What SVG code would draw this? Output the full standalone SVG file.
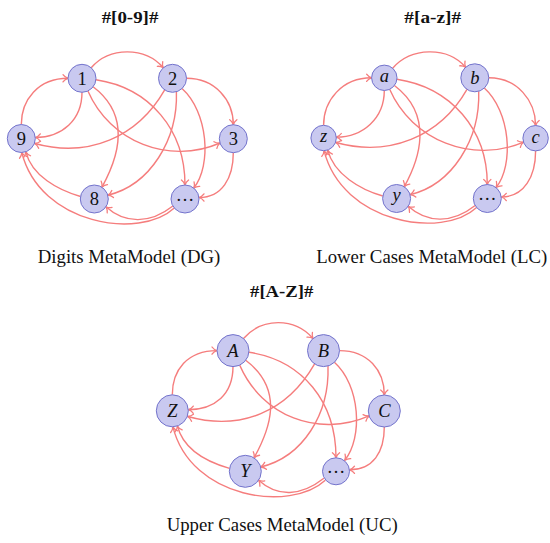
<svg xmlns="http://www.w3.org/2000/svg" width="550" height="543" viewBox="0 0 550 543">
<style>
.edge{fill:none;stroke:#f57d7d;stroke-width:1.4;marker-end:url(#arr)}
.nd circle{fill:#c9c9f0;stroke:#7373cc;stroke-width:1}
.lbl{font-family:"Liberation Serif","Times New Roman",serif;font-size:18.5px;text-anchor:middle;fill:#111}
.it{font-style:italic}
.title{font-family:"Liberation Serif","Times New Roman",serif;font-weight:bold;font-size:16.5px;text-anchor:middle;fill:#111}
.cap{font-family:"Liberation Serif","Times New Roman",serif;font-size:18.8px;text-anchor:middle;fill:#111}
</style>
<defs>
<marker id="arr" viewBox="-6 -5 8 10" refX="0" refY="0" markerWidth="8" markerHeight="10" markerUnits="userSpaceOnUse" orient="auto" overflow="visible">
<path d="M-5,-3.6 C-3.6,-1.6 -1.2,-0.4 0,0 C-1.2,0.4 -3.6,1.6 -5,3.6" fill="none" stroke="#f57d7d" stroke-width="1.3" stroke-linecap="round"/>
</marker>
</defs>

<!-- Titles and captions -->
<text class="title" x="130" y="23.3" textLength="56.7" lengthAdjust="spacingAndGlyphs">#[0-9]#</text>
<text class="title" x="432.7" y="22.9" textLength="56.7" lengthAdjust="spacingAndGlyphs">#[a-z]#</text>
<text class="title" x="281.7" y="296.7" textLength="63.3" lengthAdjust="spacingAndGlyphs">#[A-Z]#</text>
<text class="cap" x="129" y="263.3">Digits MetaModel (DG)</text>
<text class="cap" x="431.7" y="263.3">Lower Cases MetaModel (LC)</text>
<text class="cap" x="282.2" y="530.7">Upper Cases MetaModel (UC)</text>

<!-- Graph 1: digits -->
<g id="dg">
<g id="dg-edges">
<path class="edge" d="M91.2,67.7 C109.6,46.6 144.9,46.6 163.3,67.7"/>
<path class="edge" d="M21.3,124.5 C21.3,100 38,78.3 68,78.3"/>
<path class="edge" d="M82,92.3 C82,120 62,137.5 35.3,137.5"/>
<path class="edge" d="M186.5,78.3 C215,78.3 233.3,100 233.3,124.7"/>
<path class="edge" d="M233.3,152.7 C233.3,178 222,197.5 199,197.5"/>
<path class="edge" d="M164.7,89.9 C137.4,137.7 87.8,158.2 34.8,143.5"/>
<path class="edge" d="M87.9,91 C110.1,142 169,165.2 220,143"/>
<path class="edge" d="M93.1,86.8 C133,117 117,160 101.9,187.3"/>
<path class="edge" d="M96,79.8 C150,88 185,130 185,185"/>
<path class="edge" d="M176.4,91.8 C178,140 150,185 107.8,195.2"/>
<path class="edge" d="M182,88.5 C208,112 212,165 193.8,188"/>
<path class="edge" d="M80.5,196.5 C58,190 32,176 25.8,151.8"/>
<path class="edge" d="M172.9,206 C150,224 125,224 105.9,206.8"/>
<path class="edge" d="M174.3,208 C140,240 40,225 21.8,152.5"/>
</g>
<g id="dg-1" class="nd"><circle cx="82" cy="78.3" r="14"/><text class="lbl" x="82" y="84.6">1</text></g>
<g id="dg-2" class="nd"><circle cx="172.5" cy="78.3" r="14"/><text class="lbl" x="172.5" y="84.6">2</text></g>
<g id="dg-9" class="nd"><circle cx="21.3" cy="138.5" r="14"/><text class="lbl" x="21.3" y="144.8">9</text></g>
<g id="dg-3" class="nd"><circle cx="233.3" cy="138.7" r="14"/><text class="lbl" x="233.3" y="145">3</text></g>
<g id="dg-8" class="nd"><circle cx="94.3" cy="199" r="14"/><text class="lbl" x="94.3" y="205.3">8</text></g>
<g id="dg-dots" class="nd"><circle cx="185" cy="199" r="14"/><text class="lbl" x="185" y="200.5">…</text></g>
</g>

<!-- Graph 2: lower case -->
<g id="lc" transform="translate(302.3,-0.5)">
<g id="lc-edges">
<path class="edge" d="M90.35,68.7 C108.75,47.6 144.9,46.6 163.3,67.7"/>
<path class="edge" d="M21.3,125.8 C21.3,101.3 39.3,78.3 69.3,78.3"/>
<path class="edge" d="M82,91 C82,118.7 60.7,137.6 34,137.6"/>
<path class="edge" d="M186.5,78.3 C215,78.3 233.3,101.3 233.3,126"/>
<path class="edge" d="M233.3,151.4 C233.3,176.7 222,197.5 199,197.5"/>
<path class="edge" d="M164.7,89.9 C137.4,137.7 86.55,157.7 33.55,143"/>
<path class="edge" d="M87.35,89.8 C109.55,140.8 170.2,164.8 221.2,142.6"/>
<path class="edge" d="M92.1,86 C132,116.2 117,160 101.9,187.3"/>
<path class="edge" d="M94.7,79.7 C148.7,87.9 185,130 185,185"/>
<path class="edge" d="M176.4,91.8 C178,140 150,185 107.8,195.2"/>
<path class="edge" d="M182,88.5 C208,112 212,165 193.8,188"/>
<path class="edge" d="M80.5,196.5 C58,190 31.6,174.8 25.4,150.6"/>
<path class="edge" d="M172.9,206 C150,224 125,224 105.9,206.8"/>
<path class="edge" d="M174.3,208 C140,240 39.95,223.7 21.75,151.2"/>
</g>
<g id="lc-a" class="nd"><circle cx="82" cy="78.3" r="12.7"/><text class="lbl it" x="82" y="82.6">a</text></g>
<g id="lc-b" class="nd"><circle cx="172.5" cy="78.3" r="14"/><text class="lbl it" x="172.5" y="84.6">b</text></g>
<g id="lc-z" class="nd"><circle cx="21.3" cy="138.5" r="12.7"/><text class="lbl it" x="21.3" y="142.8">z</text></g>
<g id="lc-c" class="nd"><circle cx="233.3" cy="138.7" r="12.7"/><text class="lbl it" x="233.3" y="143">c</text></g>
<g id="lc-y" class="nd"><circle cx="94.3" cy="199" r="14"/><text class="lbl it" x="94.3" y="201.3">y</text></g>
<g id="lc-dots" class="nd"><circle cx="185" cy="199" r="14"/><text class="lbl" x="185" y="200.5">…</text></g>
</g>

<!-- Graph 3: upper case -->
<g id="uc" transform="translate(151,272.3)">
<g id="uc-edges">
<path class="edge" d="M92.5,66.2 C110.9,45.1 143.6,45.1 162,66.2"/>
<path class="edge" d="M21.3,122.5 C21.3,98 36,78.3 66,78.3"/>
<path class="edge" d="M82,94.3 C82,122 64,137.4 37.3,137.4"/>
<path class="edge" d="M188.5,78.3 C217,78.3 233.3,98 233.3,122.7"/>
<path class="edge" d="M233.3,154.7 C233.3,180 222,197.5 198.5,197.5"/>
<path class="edge" d="M163.6,91.6 C136.3,139.4 89.7,158.9 36.7,144.2"/>
<path class="edge" d="M88.7,92.8 C110.9,143.8 167.1,165.8 218.1,143.6"/>
<path class="edge" d="M94.7,88 C134.6,118.2 118.1,158.3 103,185.6"/>
<path class="edge" d="M98,80 C152,88.2 185,130 185,185.5"/>
<path class="edge" d="M177,93.7 C178.6,141.9 151.9,184.5 109.7,194.7"/>
<path class="edge" d="M183.4,90 C209.4,113.5 212,165 193.8,188"/>
<path class="edge" d="M78.5,196.1 C56,189.6 32.6,177.9 26.4,153.7"/>
<path class="edge" d="M172.9,206 C150,224 126.7,225.1 107.6,207.9"/>
<path class="edge" d="M174.3,208 C140,240 40.1,227 21.9,154.5"/>
</g>
<g id="uc-A" class="nd"><circle cx="82" cy="78.3" r="16"/><text class="lbl it" x="82" y="84.4">A</text></g>
<g id="uc-B" class="nd"><circle cx="172.5" cy="78.3" r="16"/><text class="lbl it" x="172.5" y="84.4">B</text></g>
<g id="uc-Z" class="nd"><circle cx="21.3" cy="138.5" r="16"/><text class="lbl it" x="21.3" y="144.6">Z</text></g>
<g id="uc-C" class="nd"><circle cx="233.3" cy="138.7" r="16"/><text class="lbl it" x="233.3" y="144.8">C</text></g>
<g id="uc-Y" class="nd"><circle cx="94.3" cy="199" r="16"/><text class="lbl it" x="94.3" y="205.1">Y</text></g>
<g id="uc-dots" class="nd"><circle cx="185" cy="199" r="13.5"/><text class="lbl" x="185" y="200.5">…</text></g>
</g>
</svg>
